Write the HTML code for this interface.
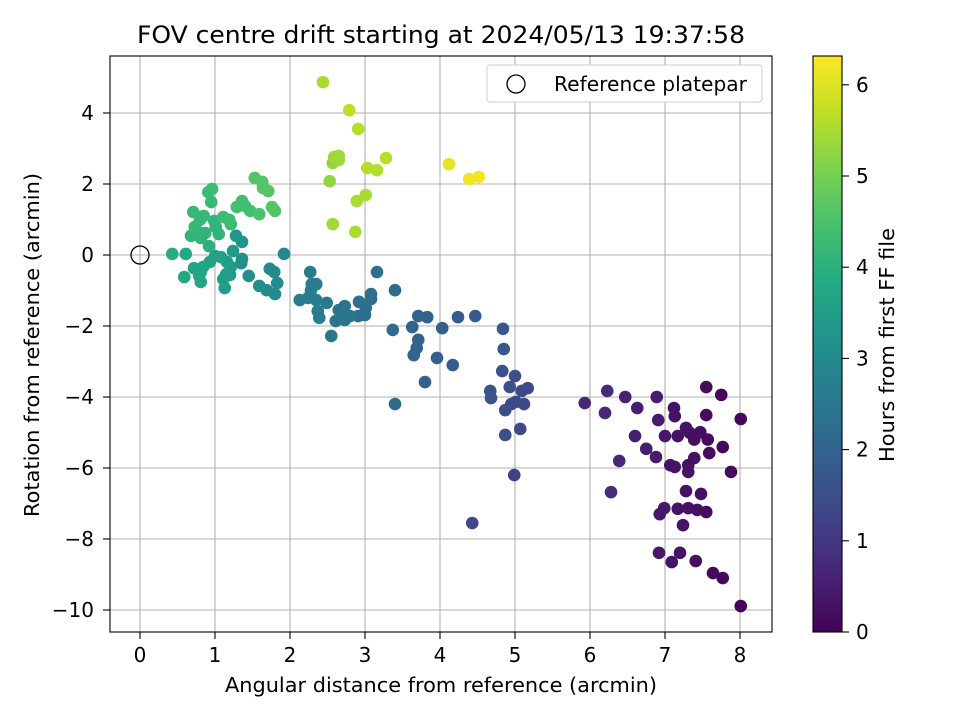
<!DOCTYPE html>
<html><head><meta charset="utf-8"><style>body{margin:0;background:#fff}svg{display:block;font-family:"DejaVu Sans","Liberation Sans",sans-serif}</style></head>
<body>
<svg id="chart" width="960" height="720" xmlns="http://www.w3.org/2000/svg">
<rect width="960" height="720" fill="#fff"/>
<defs><linearGradient id="vir" x1="0" y1="1" x2="0" y2="0">
<stop offset="0" stop-color="#440154"/><stop offset="0.1" stop-color="#482475"/><stop offset="0.2" stop-color="#414487"/><stop offset="0.3" stop-color="#355f8d"/><stop offset="0.4" stop-color="#2a788e"/><stop offset="0.5" stop-color="#21918c"/><stop offset="0.6" stop-color="#22a884"/><stop offset="0.7" stop-color="#44bf70"/><stop offset="0.8" stop-color="#7ad151"/><stop offset="0.9" stop-color="#bddf26"/><stop offset="1" stop-color="#fde725"/></linearGradient></defs>
<text x="441" y="43" font-size="24" text-anchor="middle" textLength="608" lengthAdjust="spacingAndGlyphs">FOV centre drift starting at 2024/05/13 19:37:58</text>
<g id="grid"></g><g id="pts"></g>
<rect x="110" y="56" width="662" height="576" fill="none" stroke="#000" stroke-width="1.1"/>
<g id="ticks"></g>
<text x="441" y="692" font-size="20" text-anchor="middle" textLength="432" lengthAdjust="spacingAndGlyphs">Angular distance from reference (arcmin)</text>
<text transform="translate(39,345) rotate(-90)" font-size="20" text-anchor="middle" textLength="344" lengthAdjust="spacingAndGlyphs">Rotation from reference (arcmin)</text>
<g>
<rect x="487" y="65" width="275" height="37" rx="3" fill="#fff" stroke="#ccc"/>
<circle cx="516" cy="84" r="9" fill="none" stroke="#000" stroke-width="1.3"/>
<text x="554" y="91" font-size="20" textLength="193" lengthAdjust="spacingAndGlyphs">Reference platepar</text>
</g>
<rect x="813" y="56" width="29" height="576" fill="url(#vir)" stroke="#000" stroke-width="1.1"/>
<g id="cbticks"></g>
<text transform="translate(894,345) rotate(-90)" font-size="20" text-anchor="middle" textLength="234" lengthAdjust="spacingAndGlyphs">Hours from first FF file</text>
</svg>
<script>
const xVals=[5.93,6.23,6.2,6.47,6.63,6.6,6.39,6.28,6.89,7.12,7.13,6.91,6.75,6.88,7.0,7.17,7.28,7.33,7.39,7.47,7.55,7.55,7.75,8.01,7.59,7.57,7.77,7.88,7.07,7.13,7.31,7.31,7.39,7.28,7.48,6.99,6.93,7.17,7.31,7.43,7.55,7.24,6.92,7.09,7.2,7.41,7.64,7.77,8.01,
4.43,4.99,4.87,5.07,4.95,4.87,5.01,5.12,5.09,5.17,5.0,4.93,4.83,4.67,4.68,4.85,4.84,4.47,4.24,4.17,4.03,3.96,3.83,3.8,3.71,3.71,3.63,3.65,3.69,3.4,3.4,3.37,3.16,3.08,3.08,3.01,3.0,2.92,2.91,2.8,2.73,2.67,2.73,2.65,2.61,2.49,2.55,2.39,2.37,2.35,2.28,2.29,2.35,2.27,2.24,2.13,
1.92,1.83,1.79,1.73,1.69,1.8,1.59,1.45,1.35,1.36,1.36,1.28,1.24,1.21,1.2,1.16,1.15,1.11,1.13,1.0,1.08,0.93,0.84,0.81,0.79,0.81,0.72,0.59,0.61,0.43,0.92,1.05,1.01,0.99,0.87,0.81,0.76,0.68,0.73,0.8,0.85,0.95,0.71,0.91,0.96,1.11,1.21,1.19,1.29,1.36,1.4,1.47,1.59,1.53,1.63,1.64,1.71,1.76,1.8,
2.44,2.79,2.91,3.28,3.16,3.03,3.01,2.89,2.87,2.57,2.53,2.57,2.59,2.65,2.65,4.12,4.39,4.52];
const yVals=[-4.17,-3.83,-4.45,-4.0,-4.31,-5.1,-5.8,-6.68,-4.0,-4.31,-4.54,-4.65,-5.46,-5.69,-5.1,-5.1,-4.87,-5.01,-5.2,-4.99,-4.51,-3.72,-3.94,-4.62,-5.58,-5.2,-5.41,-6.11,-5.92,-5.97,-5.92,-6.11,-5.72,-6.65,-6.73,-7.13,-7.3,-7.15,-7.13,-7.18,-7.24,-7.61,-8.39,-8.65,-8.39,-8.62,-8.96,-9.1,-9.89,
-7.55,-6.2,-5.07,-4.9,-4.2,-4.37,-4.14,-4.2,-3.83,-3.75,-3.41,-3.72,-3.27,-3.83,-4.03,-2.65,-2.08,-1.72,-1.75,-3.1,-2.06,-2.9,-1.75,-3.58,-2.39,-1.72,-2.03,-2.82,-2.62,-0.99,-4.2,-2.11,-0.48,-1.1,-1.24,-1.49,-1.69,-1.32,-1.72,-1.72,-1.83,-1.77,-1.44,-1.55,-1.86,-1.35,-2.28,-1.77,-1.58,-1.27,-0.99,-0.82,-0.82,-0.48,-1.21,-1.27,
0.03,-0.79,-0.48,-0.39,-0.99,-1.1,-0.87,-0.59,-0.23,-0.11,0.37,0.54,0.11,-0.34,-0.56,-0.2,-0.54,-0.68,-0.93,-0.03,-0.06,-0.2,-0.34,-0.48,-0.59,-0.76,-0.37,-0.62,0.03,0.03,0.25,0.59,0.79,0.96,0.62,0.48,0.68,0.54,0.79,0.99,1.1,1.49,1.21,1.77,1.86,1.07,0.87,0.99,1.35,1.52,1.38,1.24,1.15,2.17,2.06,1.89,1.8,1.35,1.24,
4.87,4.08,3.55,2.73,2.39,2.45,1.69,1.52,0.65,0.87,2.08,2.59,2.76,2.68,2.79,2.56,2.14,2.2];
const hours=[0.7,0.75,0.7,0.6,0.55,0.55,0.7,0.8,0.5,0.35,0.3,0.45,0.5,0.45,0.4,0.3,0.3,0.3,0.25,0.25,0.2,0.2,0.15,0.1,0.2,0.2,0.15,0.15,0.35,0.3,0.3,0.3,0.3,0.3,0.25,0.4,0.4,0.3,0.3,0.25,0.2,0.3,0.4,0.35,0.3,0.25,0.15,0.15,0.05,
1.3,1.2,1.5,1.4,1.4,1.5,1.4,1.4,1.4,1.4,1.5,1.5,1.6,1.6,1.6,1.7,1.7,1.8,1.8,1.8,1.9,1.9,2.0,2.0,2.0,2.0,2.0,2.0,2.0,2.2,2.2,2.2,2.3,2.3,2.3,2.3,2.3,2.3,2.3,2.4,2.4,2.4,2.4,2.4,2.4,2.5,2.5,2.6,2.6,2.6,2.6,2.6,2.6,2.6,2.6,2.6,
2.9,3.0,3.0,3.0,3.0,3.0,3.1,3.1,3.2,3.2,3.3,3.3,3.4,3.4,3.4,3.5,3.5,3.5,3.5,3.6,3.6,3.6,3.7,3.7,3.7,3.7,3.7,3.8,3.8,3.9,4.0,4.1,4.1,4.1,4.1,4.1,4.1,4.1,4.2,4.2,4.2,4.2,4.2,4.3,4.3,4.3,4.3,4.3,4.4,4.4,4.4,4.4,4.5,4.6,4.6,4.6,4.6,4.6,4.6,
5.5,5.7,5.6,5.6,5.6,5.6,5.5,5.5,5.5,5.4,5.3,5.3,5.4,5.4,5.4,6.1,6.2,6.2];
const xTicks=[0,1,2,3,4,5,6,7,8];
const yTicks=[4,2,0,-2,-4,-6,-8,-10];
const cbTicks=[0,1,2,3,4,5,6];
const hMax=6.32;
const X=v=>140+v*75, Y=v=>255-v*35.5, CB=v=>632-v*91.2;
const stops=["#440154","#482475","#414487","#355f8d","#2a788e","#21918c","#22a884","#44bf70","#7ad151","#bddf26","#fde725"].map(h=>[1,3,5].map(i=>parseInt(h.substr(i,2),16)));
function vir(t){t=Math.max(0,Math.min(1,t))*10;const i=Math.min(9,Math.floor(t)),f=t-i;const a=stops[i],b=stops[i+1];return `rgb(${a.map((c,k)=>Math.round(c+(b[k]-c)*f)).join(',')})`;}
const NS="http://www.w3.org/2000/svg";
function mk(tag,attrs,parent,txt){const e=document.createElementNS(NS,tag);for(const k in attrs)e.setAttribute(k,attrs[k]);if(txt!==undefined)e.textContent=txt;parent.appendChild(e);return e;}
const grid=document.getElementById('grid'),tk=document.getElementById('ticks'),pts=document.getElementById('pts'),cb=document.getElementById('cbticks');
xTicks.forEach(v=>{const x=X(v);
const g=mk('line',{x1:x,x2:x,y1:56,y2:632,stroke:'#b0b0b0','stroke-width':1.1},grid);


const t=mk('line',{x1:x,x2:x,y1:632,y2:639,stroke:'#000','stroke-width':1.1},tk);


const l=mk('text',{x:x,y:662,'font-size':20,'text-anchor':'middle'},tk,String(v).replace('-','\u2212'));

});
yTicks.forEach(v=>{const y=Y(v);
const g=mk('line',{x1:110,x2:772,y1:y,y2:y,stroke:'#b0b0b0','stroke-width':1.1},grid);


const t=mk('line',{x1:103,x2:110,y1:y,y2:y,stroke:'#000','stroke-width':1.1},tk);


const l=mk('text',{x:94,y:y+7,'font-size':20,'text-anchor':'end'},tk,String(v).replace('-','\u2212'));

});
cbTicks.forEach(v=>{const y=CB(v);
const t=mk('line',{x1:842,x2:849,y1:y,y2:y,stroke:'#000','stroke-width':1.1},cb);


const l=mk('text',{x:856,y:y+7,'font-size':20},cb,String(v));

});
xVals.forEach((xv,i)=>{
const c=mk('circle',{cx:X(xv),cy:Y(yVals[i]),r:6.3,fill:vir(hours[i]/hMax)},pts);

});
const ref=mk('circle',{cx:X(0),cy:Y(0),r:9,fill:'none',stroke:'#000','stroke-width':1.3},pts);


</script>
</body></html>
